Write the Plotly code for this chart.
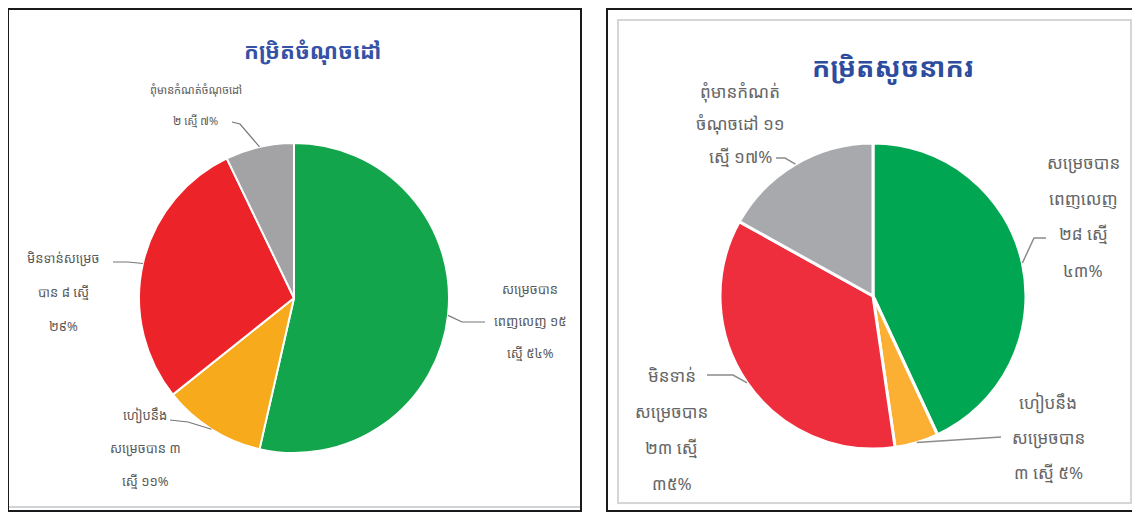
import math
import plotly.graph_objects as go

# the page has an 8px body margin, so the figure is a bit smaller and offset
OFF = 8
W, H = 1132, 504

# data
labels_km = ["សម្រេចបានពេញលេញ", "ហៀបនឹងសម្រេចបាន", "មិនទាន់សម្រេចបាន", "ពុំមានកំណត់ចំណុចដៅ"]
target_counts = [15, 3, 8, 2]
indicator_counts = [28, 3, 23, 11]
left_colors = ["#12A54B", "#F6AA1C", "#EC2329", "#A3A3A5"]
right_colors = ["#00A651", "#FBB034", "#EE2E3D", "#A7A9AC"]

left_title = "កម្រិតចំណុចដៅ"
right_title = "កម្រិតសូចនាករ"

left_label_lines = [
    ["សម្រេចបាន", "ពេញលេញ ១៥", "ស្មើ ៥៤%"],
    ["ហៀបនឹង", "សម្រេចបាន ៣", "ស្មើ ១១%"],
    ["មិនទាន់សម្រេច", "បាន ៨ ស្មើ", "២៩%"],
    ["ពុំមានកំណត់ចំណុចដៅ", "២ ស្មើ ៧%"],
]
right_label_lines = [
    ["សម្រេចបាន", "ពេញលេញ", "២៨ ស្មើ", "៤៣%"],
    ["ហៀបនឹង", "សម្រេចបាន", "៣ ស្មើ ៥%"],
    ["មិនទាន់", "សម្រេចបាន", "២៣ ស្មើ", "៣៥%"],
    ["ពុំមានកំណត់", "ចំណុចដៅ ១១", "ស្មើ ១៧%"],
]

KH_FONT = "Noto Sans Khmer, Khmer OS, Noto Sans, sans-serif"


def px(x):
    return (x - OFF) / W


def py(y):
    return 1 - (y - OFF) / H


def anchors(values, cx, cy, r):
    # mid-angle point on the pie edge for each slice (clockwise from 12 o'clock)
    total = sum(values)
    out, cum = [], 0
    for v in values:
        a = 2 * math.pi * (cum + v / 2) / total
        out.append((cx + r * math.sin(a), cy - r * math.cos(a)))
        cum += v
    return out


fig = go.Figure()

# pie geometry (screen pixels)
L_CX, L_CY, L_R = 294, 298, 155
R_CX, R_CY, R_R = 873, 296, 153

fig.add_trace(go.Pie(
    labels=labels_km, values=target_counts, sort=False, direction="clockwise",
    rotation=0, textinfo="none", hoverinfo="label+value+percent",
    marker=dict(colors=left_colors, line=dict(color="white", width=2)),
    domain=dict(x=[px(L_CX - L_R), px(L_CX + L_R)], y=[py(L_CY + L_R), py(L_CY - L_R)]),
    showlegend=False,
))
fig.add_trace(go.Pie(
    labels=labels_km, values=indicator_counts, sort=False, direction="clockwise",
    rotation=0, textinfo="none", hoverinfo="label+value+percent",
    marker=dict(colors=right_colors, line=dict(color="white", width=3)),
    domain=dict(x=[px(R_CX - R_R), px(R_CX + R_R)], y=[py(R_CY + R_R), py(R_CY - R_R)]),
    showlegend=False,
))

shapes = []
annotations = []

# panel frames
shapes.append(dict(type="rect", xref="paper", yref="paper", x0=px(8), x1=px(581),
                   y0=py(511), y1=py(9), line=dict(color="#1a1a1a", width=2)))
shapes.append(dict(type="line", xref="paper", yref="paper", x0=px(9), x1=px(580),
                   y0=py(507), y1=py(507), line=dict(color="#cfd3d6", width=2)))
shapes.append(dict(type="rect", xref="paper", yref="paper", x0=px(607), x1=px(1139),
                   y0=py(511), y1=py(9), line=dict(color="#1a1a1a", width=2)))
shapes.append(dict(type="rect", xref="paper", yref="paper", x0=px(618), x1=px(1131),
                   y0=py(503), y1=py(20), line=dict(color="#d6d6d6", width=2)))


def add_text(text, x, y, size, color):
    annotations.append(dict(text=text, x=px(x), y=py(y), xref="paper", yref="paper",
                            xanchor="center", yanchor="middle", showarrow=False,
                            font=dict(family=KH_FONT, size=size, color=color)))


# titles
add_text("<b>" + left_title + "</b>", 312, 50, 22, "#3552A6")
add_text("<b>" + right_title + "</b>", 893, 66, 27, "#2E4C9E")


def add_label(lines, x, y0, step, size, color):
    for i, t in enumerate(lines):
        add_text(t, x, y0 + i * step, size, color)


def add_leader(points, color, width):
    path = "M " + " L ".join(f"{px(a)},{py(b)}" for a, b in points)
    shapes.append(dict(type="path", xref="paper", yref="paper", path=path,
                       line=dict(color=color, width=width)))


# left labels
lc = "#5a5a5a"
add_label(left_label_lines[0], 530, 289, 32, 13, lc)
add_label(left_label_lines[1], 145, 415, 33, 13, lc)
add_label(left_label_lines[2], 63, 258, 34, 13, lc)
add_label(left_label_lines[3], 196, 90, 30, 11, lc)

la = anchors(target_counts, L_CX, L_CY, L_R)
add_leader([la[0], (462, 322), (485, 322)], "#777", 1.2)
add_leader([la[1], (188, 422), (170, 420)], "#777", 1.2)
add_leader([la[2], (128, 262), (113, 262)], "#777", 1.2)
add_leader([la[3], (240, 124), (232, 122)], "#777", 1.2)

# right labels
rc = "#666666"
add_label(right_label_lines[0], 1083, 162, 36, 17, rc)
add_label(right_label_lines[1], 1048, 402, 35, 17, rc)
add_label(right_label_lines[2], 672, 375, 36, 17, rc)
add_label(right_label_lines[3], 740, 92, 32, 17, rc)

ra = anchors(indicator_counts, R_CX, R_CY, R_R)
add_leader([ra[0], (1034, 238), (1046, 238)], "#8c8c8c", 1.5)
add_leader([ra[1], (1001, 437)], "#8c8c8c", 1.5)
add_leader([ra[2], (733, 375), (707, 375)], "#8c8c8c", 1.5)
add_leader([ra[3], (785, 158), (776, 158)], "#8c8c8c", 1.5)

fig.update_layout(
    width=W, height=H,
    margin=dict(l=0, r=0, t=0, b=0),
    paper_bgcolor="white", plot_bgcolor="white",
    shapes=shapes, annotations=annotations,
    font=dict(family=KH_FONT),
)

fig.write_html("out.html")
